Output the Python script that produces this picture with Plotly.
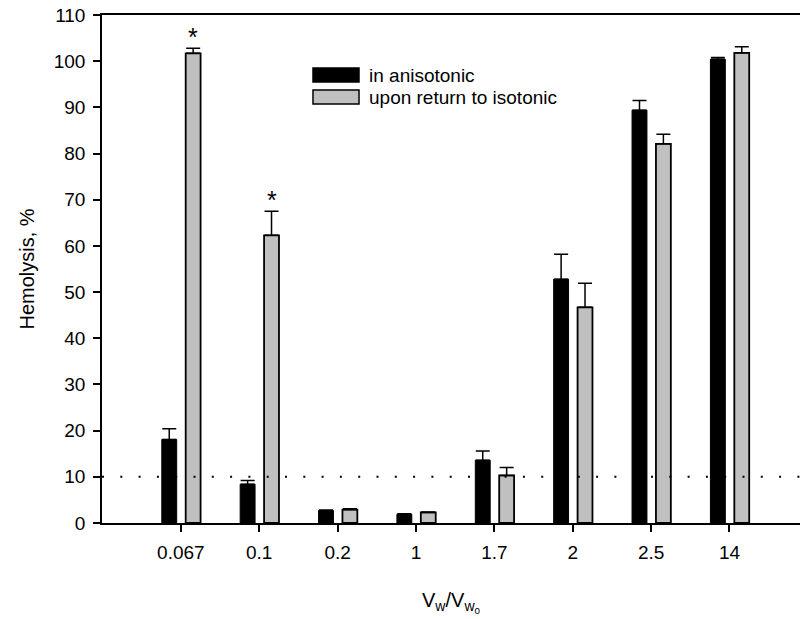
import plotly.graph_objects as go

categories = ["0.067", "0.1", "0.2", "1", "1.7", "2", "2.5", "14"]
aniso = [18.1, 8.4, 2.7, 1.9, 13.6, 52.8, 89.4, 100.4]
aniso_err = [2.3, 0.8, 0.1, 0.1, 2.0, 5.4, 2.1, 0.4]
iso = [101.7, 62.3, 2.9, 2.3, 10.3, 46.7, 82.1, 101.8]
iso_err = [1.1, 5.2, 0.2, 0.1, 1.7, 5.2, 2.1, 1.3]
y_ticks = list(range(0, 111, 10))
threshold = 10
star_cats = ["0.067", "0.1"]

FONT = "Liberation Sans, Arial, sans-serif"
W, H = 800, 619
L, R, T, B = 102, 0, 15, 96
PW, PH = W - L - R, H - T - B

def px2paper_x(px):
    return (px - L) / PW

def px2paper_y(py):
    return (H - B - py) / PH

fig = go.Figure()
bw = 0.19
off_a, off_i = -0.243, 0.062
fig.add_trace(go.Bar(
    x=categories, y=aniso, name="in anisotonic",
    width=bw, offset=off_a,
    marker=dict(color="black", line=dict(color="black", width=1)),
    error_y=dict(type="data", array=aniso_err, arrayminus=[0]*len(aniso),
                 symmetric=False, color="black", thickness=1.5, width=7),
    showlegend=False,
))
fig.add_trace(go.Bar(
    x=categories, y=iso, name="upon return to isotonic",
    width=bw, offset=off_i,
    marker=dict(color="#c0c0c0", line=dict(color="black", width=1.8)),
    error_y=dict(type="data", array=iso_err, arrayminus=[0]*len(iso),
                 symmetric=False, color="black", thickness=1.5, width=7),
    showlegend=False,
))

# threshold dotted line
fig.add_shape(type="line", xref="paper", x0=0, x1=1, yref="y", y0=threshold, y1=threshold,
              line=dict(color="black", width=2, dash="2px,16.3px"), layer="above")

# asterisks
for c in star_cats:
    i = categories.index(c)
    fig.add_annotation(x=i + off_i + bw / 2, y=iso[i] + iso_err[i], xref="x", yref="y",
                       text="*", showarrow=False, yanchor="bottom", yshift=-5,
                       font=dict(family=FONT, size=25, color="black"))

# manual legend
leg_items = [("in anisotonic", "black", 75), ("upon return to isotonic", "#c0c0c0", 97)]
for label, col, cy in leg_items:
    fig.add_shape(type="rect", xref="paper", yref="paper",
                  x0=px2paper_x(313), x1=px2paper_x(359),
                  y0=px2paper_y(cy + 7), y1=px2paper_y(cy - 7),
                  fillcolor=col, line=dict(color="black", width=1.5))
    fig.add_annotation(xref="paper", yref="paper", x=px2paper_x(367), y=px2paper_y(cy),
                       text=label, showarrow=False, xanchor="left", yanchor="middle",
                       font=dict(family=FONT, size=19, color="black"))

fig.update_layout(
    width=W, height=H,
    margin=dict(l=L, r=R, t=T, b=B, autoexpand=False),
    plot_bgcolor="white", paper_bgcolor="white",
    barmode="group",
    font=dict(family=FONT, color="black"),
    xaxis=dict(type="category", categoryorder="array", categoryarray=categories,
               range=[-1.006, 7.9], showline=True, linecolor="black", linewidth=1.5,
               mirror=True, ticks="outside", ticklen=7, tickwidth=1.5, tickcolor="black",
               showgrid=False, zeroline=False, tickfont=dict(size=19), automargin=False,
               ticklabelstandoff=4,
               title=dict(text="V<sub>w</sub>/V<sub>w<sub>0</sub></sub>", font=dict(size=20), standoff=31)),
    yaxis=dict(range=[0, 110], tickvals=y_ticks, showline=True, linecolor="black", linewidth=1.5,
               mirror=True, ticks="outside", ticklen=7, tickwidth=1.5, tickcolor="black",
               showgrid=False, zeroline=False, tickfont=dict(size=19), automargin=False,
               ticklabelstandoff=4,
               title=dict(text="Hemolysis, %", font=dict(size=20), standoff=14)),
)

fig.write_html("out.html", config={"displayModeBar": False},
               post_script="document.body.style.margin='0px';")
